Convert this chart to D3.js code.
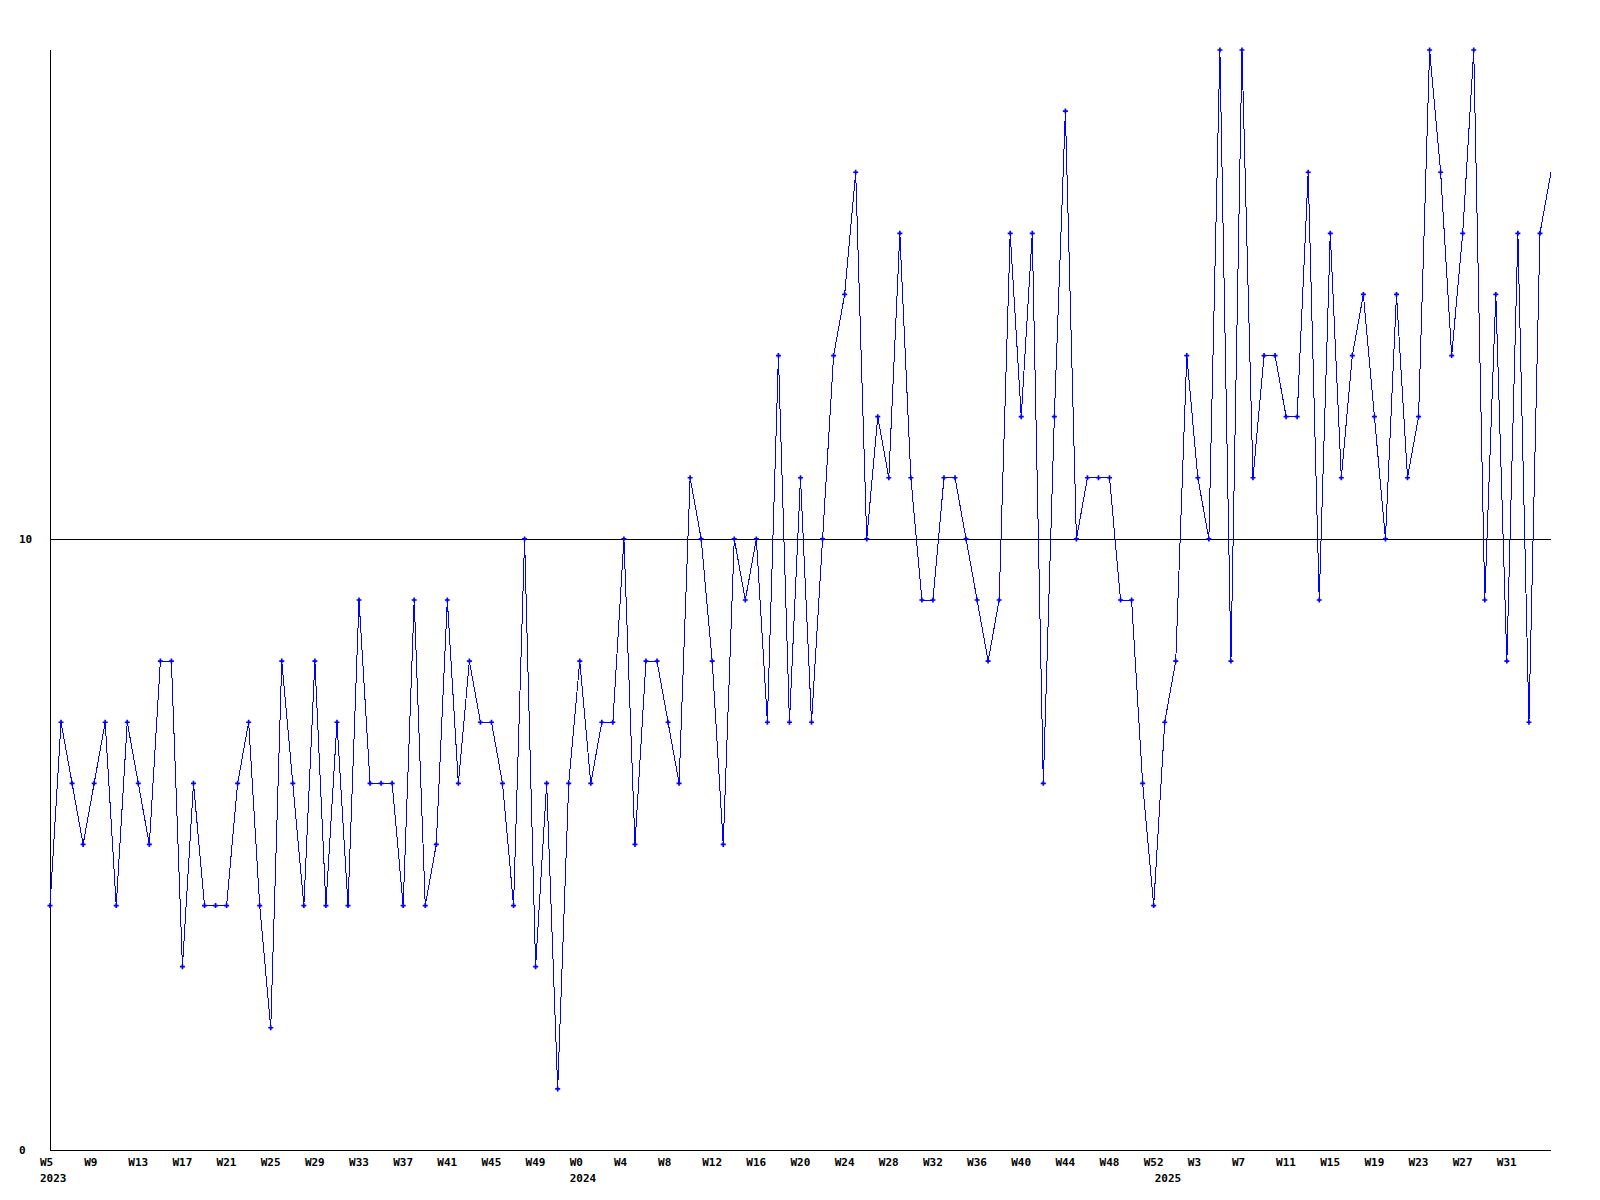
<!DOCTYPE html>
<html>
<head>
<meta charset="utf-8">
<script src="https://cdn.jsdelivr.net/npm/d3@7"></script>
<style>
  html, body { margin: 0; padding: 0; background: #fff; }
  svg { display: block; }
  text { font-family: "DejaVu Sans Mono", "Liberation Mono", monospace; font-weight: bold; font-size: 11px; fill: #000; }
</style>
</head>
<body>
<svg id="chart" width="1600" height="1200"></svg>
<script>
// Years and first week number shown for each year
const years = [2023, 2024, 2025];
const firstWeek = [5, 0, 0];

// Weekly values per year
const values2023 = [4, 7, 6, 5, 6, 7, 4, 7, 6, 5, 8, 8, 3, 6, 4, 4, 4, 6, 7, 4,
                    2, 8, 6, 4, 8, 4, 7, 4, 9, 6, 6, 6, 4, 9, 4, 5, 9, 6, 8, 7,
                    7, 6, 4, 10, 3, 6, 1, 6];
const values2024 = [8, 6, 7, 7, 10, 5, 8, 8, 7, 6, 11, 10, 8, 5, 10, 9, 10, 7, 13, 7,
                    11, 7, 10, 13, 14, 16, 10, 12, 11, 15, 11, 9, 9, 11, 11, 10, 9, 8, 9, 15,
                    12, 15, 6, 12, 17, 10, 11, 11, 11, 9, 9, 6, 4];
const values2025 = [7, 8, 13, 11, 10, 18, 8, 18, 11, 13, 13, 12, 12, 16, 9, 15, 11, 13, 14, 12,
                    10, 14, 11, 12, 18, 16, 13, 15, 18, 9, 14, 8, 15, 7, 15, 16];

// Y axis tick labels
const yTickValues = [0, 10];
const yMax = 18;

const seriesByYear = [values2023, values2024, values2025];

// Build flat table
const data = [];
seriesByYear.forEach((vals, yi) => {
  vals.forEach((v, k) => {
    data.push({ year: years[yi], week: firstWeek[yi] + k, value: v, yearStart: k === 0 });
  });
});
data.forEach((d, i) => { d.idx = i; d.label = "W" + d.week; });

const mLeft = 50, mRight = 1551, mTop = 50, mBottom = 1150;

const x = d3.scaleLinear().domain([0, data.length - 1]).range([mLeft, mRight]);
const y = d3.scaleLinear().domain([0, yMax]).range([mBottom, mTop]);

const svg = d3.select("#chart");

// Axes lines
svg.append("line")
  .attr("x1", mLeft + 0.5).attr("x2", mLeft + 0.5)
  .attr("y1", mTop).attr("y2", mBottom + 1)
  .attr("stroke", "#000").attr("stroke-width", 1).attr("shape-rendering", "crispEdges");

svg.selectAll("line.hgrid")
  .data(yTickValues)
  .enter().append("line")
  .attr("class", "hgrid")
  .attr("x1", mLeft).attr("x2", mRight)
  .attr("y1", d => Math.round(y(d)) + 0.5).attr("y2", d => Math.round(y(d)) + 0.5)
  .attr("stroke", "#000").attr("stroke-width", 1).attr("shape-rendering", "crispEdges");

// Y tick labels
svg.selectAll("text.ylab")
  .data(yTickValues)
  .enter().append("text")
  .attr("class", "ylab")
  .attr("x", 19)
  .attr("y", d => y(d) + 4)
  .attr("text-anchor", "start")
  .text(d => d);

// X tick labels: every 4th point (the one at the very edge is not labelled)
const ticks = data.filter(d => d.idx % 4 === 0 && d.idx < data.length - 1);
svg.selectAll("text.xlab")
  .data(ticks)
  .enter().append("text")
  .attr("class", "xlab")
  .attr("x", d => x(d.idx) - 10)
  .attr("y", mBottom + 16)
  .attr("text-anchor", "start")
  .text(d => d.label);

// Year labels
const yearMarks = data.filter(d => d.yearStart);
svg.selectAll("text.yearlab")
  .data(yearMarks)
  .enter().append("text")
  .attr("class", "yearlab")
  .attr("x", d => x(d.idx) - 10)
  .attr("y", mBottom + 32)
  .attr("text-anchor", "start")
  .text(d => d.year);

// Line
const line = d3.line().x(d => x(d.idx)).y(d => y(d.value));
svg.append("path")
  .datum(data)
  .attr("d", line)
  .attr("fill", "none")
  .attr("stroke", "#0000ff")
  .attr("stroke-width", 1)
  .attr("shape-rendering", "crispEdges");

// Markers
const sym = d3.symbol().type(d3.symbolCross).size(14);
svg.selectAll("path.mark")
  .data(data.slice(0, data.length - 1))
  .enter().append("path")
  .attr("class", "mark")
  .attr("transform", d => `translate(${x(d.idx)},${y(d.value)})`)
  .attr("d", sym)
  .attr("fill", "#0000ff");
</script>
</body>
</html>
